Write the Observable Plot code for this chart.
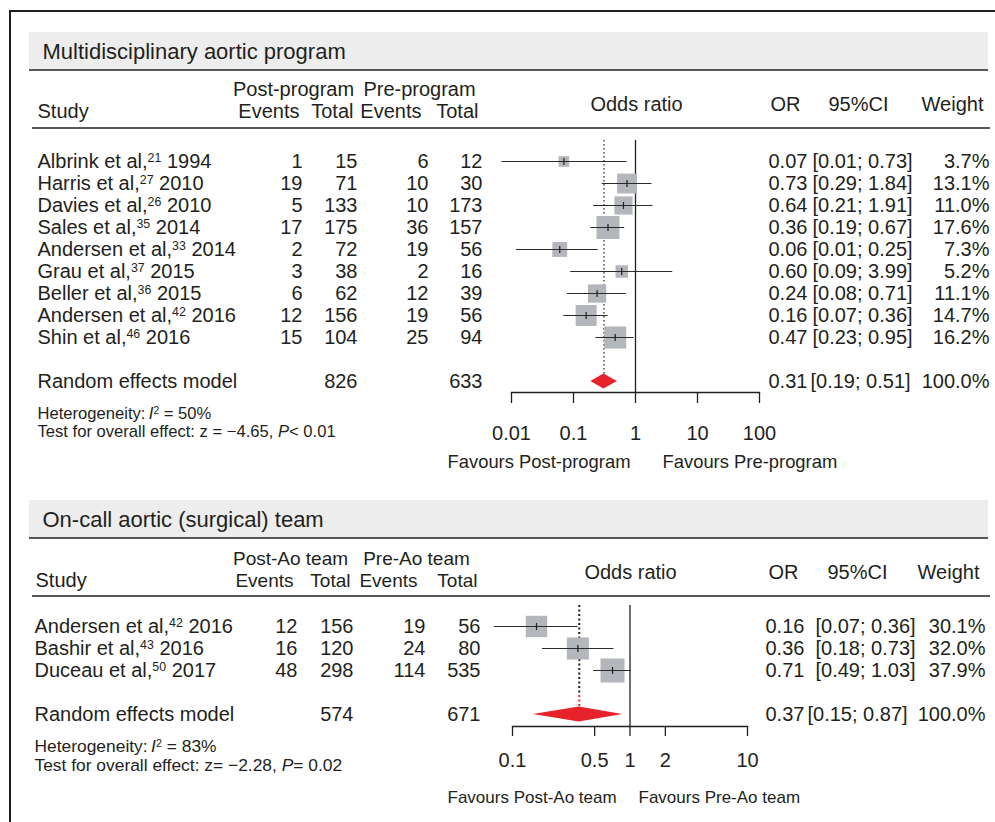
<!DOCTYPE html>
<html>
<head>
<meta charset="utf-8">
<script src="https://cdn.jsdelivr.net/npm/d3@7"></script>
<script src="https://cdn.jsdelivr.net/npm/@observablehq/plot@0.6"></script>
<style>
  body { margin: 0; background: #fff; }
  #page { position: relative; width: 995px; height: 822px; overflow: hidden; background: #fff;
          font-family: "Liberation Sans", Arial, Helvetica, sans-serif; }
  #p1, #p2 { position: absolute; left: 0; }
  #p1 { top: 0; }
  #p2 { top: 482px; }
  #border { position: absolute; left: 9px; top: 10px; width: 990px; height: 820px;
            border-left: 2px solid #231f20; border-top: 2px solid #231f20; pointer-events: none; }
</style>
</head>
<body>
<div id="page"><div id="p1"></div><div id="p2"></div><div id="border"></div></div>
<script>
// ---------------- data: panel 1 ----------------
const title1 = "Multidisciplinary aortic program";
const groups1 = ["Post-program", "Pre-program"];
const studies1 = ["Albrink et al,{21} 1994", "Harris et al,{27} 2010", "Davies et al,{26} 2010",
  "Sales et al,{35} 2014", "Andersen et al,{33} 2014", "Grau et al,{37} 2015",
  "Beller et al,{36} 2015", "Andersen et al,{42} 2016", "Shin et al,{46} 2016"];
const postEvents1 = [1, 19, 5, 17, 2, 3, 6, 12, 15];
const postTotal1 = [15, 71, 133, 175, 72, 38, 62, 156, 104];
const preEvents1 = [6, 10, 10, 36, 19, 2, 12, 19, 25];
const preTotal1 = [12, 30, 173, 157, 56, 16, 39, 56, 94];
const or1 = [0.07, 0.73, 0.64, 0.36, 0.06, 0.60, 0.24, 0.16, 0.47];
const lo1 = [0.007, 0.29, 0.21, 0.19, 0.012, 0.09, 0.08, 0.07, 0.23];
const hi1 = [0.73, 1.84, 1.91, 0.67, 0.25, 3.99, 0.71, 0.36, 0.95];
const weight1 = [3.7, 13.1, 11.0, 17.6, 7.3, 5.2, 11.1, 14.7, 16.2];
const summaryOR1 = [0.31, 0.19, 0.51];       // or, lower, upper
const summaryTotals1 = [826, 633];
const summaryWeight1 = 100.0;
const het1 = "Heterogeneity:\u2009<i>I</i>{2} = 50%";
const test1 = "Test for overall effect: z = \u22124.65, <i>P</i>< 0.01";
const ticks1 = [0.01, 0.1, 1, 10, 100];
const domain1 = [0.01, 100];
const favours1 = ["Favours Post-program", "Favours Pre-program"];

// ---------------- data: panel 2 ----------------
const title2 = "On-call aortic (surgical) team";
const groups2 = ["Post-Ao team", "Pre-Ao team"];
const studies2 = ["Andersen et al,{42} 2016", "Bashir et al,{43} 2016", "Duceau et al,{50} 2017"];
const postEvents2 = [12, 16, 48];
const postTotal2 = [156, 120, 298];
const preEvents2 = [19, 24, 114];
const preTotal2 = [56, 80, 535];
const or2 = [0.16, 0.36, 0.71];
const lo2 = [0.07, 0.18, 0.49];
const hi2 = [0.36, 0.73, 1.03];
const weight2 = [30.1, 32.0, 37.9];
const summaryOR2 = [0.37, 0.15, 0.87];
const summaryTotals2 = [574, 671];
const summaryWeight2 = 100.0;
const het2 = "Heterogeneity:\u2009<i>I</i>{2} = 83%";
const test2 = "Test for overall effect: z= \u22122.28, <i>P</i>= 0.02";
const ticks2 = [0.1, 0.5, 1, 2, 10];
const domain2 = [0.1, 10];
const favours2 = ["Favours Post-Ao team", "Favours Pre-Ao team"];

// ---------------- style ----------------
const W = 995;
const INK = "#231f20", SQ = "#b3b6ba", RED = "#e8222a", BAND = "#ededed";
const SUMMARY = "Random effects model";
const FONT = "'Liberation Sans', Arial, Helvetica, sans-serif";
const vbar = {draw(ctx, size) { const h = Math.sqrt(size / Math.PI); ctx.moveTo(0, -h); ctx.lineTo(0, h); }};

// convert {sup} and <i>..</i> markup into tspans
function rich(svg) {
  for (const t of svg.querySelectorAll("text")) {
    const s = t.textContent;
    if (!/\{|<i>/.test(s)) continue;
    t.textContent = "";
    const parts = s.split(/(\{[^}]*\}|<i>[^<]*<\/i>)/).filter(p => p !== "");
    let raised = false;
    for (const p of parts) {
      const ts = document.createElementNS("http://www.w3.org/2000/svg", "tspan");
      if (p.startsWith("{")) {
        ts.textContent = p.slice(1, -1);
        ts.setAttribute("font-size", "0.62em");
        ts.setAttribute("dy", "-0.5em");
        raised = true;
      } else {
        if (p.startsWith("<i>")) { ts.textContent = p.slice(3, -4); ts.setAttribute("font-style", "italic"); }
        else ts.textContent = p;
        if (raised) { ts.setAttribute("dy", "0.31em"); raised = false; }
      }
      t.appendChild(ts);
    }
  }
}

function build(d, L) {
  const rows = d.studies.map((s, i) => ({study: s, pe: d.postEvents[i], pt: d.postTotal[i],
    re: d.preEvents[i], rt: d.preTotal[i], or: d.or[i], lo: d.lo[i], hi: d.hi[i], w: d.weight[i]}));
  const summ = {study: SUMMARY, pt: d.summaryTotals[0], rt: d.summaryTotals[1],
    or: d.summaryOR[0], lo: d.summaryOR[1], hi: d.summaryOR[2], w: d.summaryWeight};
  const all = [...rows, summ];
  const ml = L.xRange[0], mr = W - L.xRange[1], mt = L.frameTop, mb = L.height - L.axisY;
  const DX = px => px - ml, DY = py => py - mt;
  const label = (str, px, py, anchor, size = 20) => Plot.text([str], {text: s => s,
    frameAnchor: "top-left", dx: DX(px), dy: DY(py), textAnchor: anchor, lineAnchor: "middle",
    fontSize: size, fill: INK});
  const col = (data, text, px, anchor) => Plot.text(data, {y: "study", text, frameAnchor: "left",
    dx: DX(px), textAnchor: anchor, lineAnchor: "middle", fontSize: 20, fill: INK});
  const sy = L.yRange[1], half = L.diamondHalf;
  const deco = () => {
    const g = d3.create("svg:g");
    g.append("rect").attr("x", L.band[0]).attr("y", L.band[1])
      .attr("width", L.band[2] - L.band[0]).attr("height", L.band[3] - L.band[1]).attr("fill", BAND);
    for (const [x1, x2, y] of L.hlines)
      g.append("line").attr("x1", x1).attr("x2", x2).attr("y1", y).attr("y2", y)
        .attr("stroke", INK).attr("stroke-width", 1.5);
    return g.node();
  };
  const diamond = (index, {x, y}) => {
    const cy = y(SUMMARY);
    return d3.create("svg:path")
      .attr("d", `M${x(summ.lo)},${cy}L${x(summ.or)},${cy - half}L${x(summ.hi)},${cy}L${x(summ.or)},${cy + half}Z`)
      .attr("fill", RED).node();
  };
  const dotted = L.dotted.map(s => Plot.ruleX([summ.or], {x: v => v, stroke: s.stroke,
    strokeWidth: s.width, strokeDasharray: s.dash,
    insetTop: s.top - mt, insetBottom: L.axisY - (s.bottom ?? (sy - half))}));

  const svg = Plot.plot({
    width: W, height: L.height,
    marginLeft: ml, marginRight: mr, marginTop: mt, marginBottom: mb,
    style: {fontFamily: FONT, color: INK, background: "none", overflow: "visible"},
    x: {type: "log", domain: d.domain},
    y: {type: "point", domain: [...d.studies, " ", SUMMARY], range: L.yRange, padding: 0, axis: null},
    r: {type: "sqrt", domain: [0, d3.max(d.weight)], range: [0, L.maxSide / Math.sqrt(Math.PI)]},
    marks: [
      deco,
      label(d.title, L.titleX, L.titleY, "start", 22),
      label("Study", L.studyX, L.hdr2Y, "start"),
      label(d.groups[0], L.grpX[0], L.hdr1Y, "middle", L.hdrSize),
      label(d.groups[1], L.grpX[1], L.hdr1Y, "middle", L.hdrSize),
      label("Events", L.hdrCols[0], L.hdr2Y, "end", L.hdrSize),
      label("Total", L.hdrCols[1], L.hdr2Y, "end", L.hdrSize),
      label("Events", L.hdrCols[2], L.hdr2Y, "end", L.hdrSize),
      label("Total", L.hdrCols[3], L.hdr2Y, "end", L.hdrSize),
      label("Odds ratio", L.rightHdr[0], L.hdrMidY, "middle"),
      label("OR", L.rightHdr[1], L.hdrMidY, "middle"),
      label("95%CI", L.rightHdr[2], L.hdrMidY, "middle"),
      label("Weight", L.rightHdr[3], L.hdrMidY, "middle"),
      // table
      col(all, "study", L.nameX, "start"),
      col(rows, d => String(d.pe), L.numCols[0], "end"),
      col(all, d => String(d.pt), L.numCols[1], "end"),
      col(rows, d => String(d.re), L.numCols[2], "end"),
      col(all, d => String(d.rt), L.numCols[3], "end"),
      col(all, d => d.or.toFixed(2), L.orX, "start"),
      col(rows, d => `[${d.lo.toFixed(2)}; ${d.hi.toFixed(2)}]`, L.ciX, "start"),
      col([summ], d => `[${d.lo.toFixed(2)}; ${d.hi.toFixed(2)}]`, L.ciSumX, "start"),
      col(all, d => d.w.toFixed(1) + "%", L.wX, "end"),
      label(d.het, L.nameX, L.hetY, "start", L.hetSize),
      label(d.test, L.nameX, L.testY, "start", L.hetSize),
      // forest
      Plot.ruleX([1], {x: v => v, stroke: INK, strokeWidth: 1.3}),
      ...dotted,
      Plot.dot(rows, {x: "or", y: "study", r: "w", symbol: "square", fill: SQ, stroke: "none"}),
      Plot.ruleY(rows, {y: "study", x1: "lo", x2: "hi", stroke: "#2b2b2b", strokeWidth: 1.2}),
      Plot.dot(rows, {x: "or", y: "study", r: 3.5, symbol: vbar, fill: "none", stroke: INK, strokeWidth: 1.2}),
      diamond,
      Plot.frame({anchor: "bottom", stroke: INK, strokeWidth: 1.3}),
      Plot.axisX(d.ticks, {anchor: "bottom", tickSize: L.tickSize, tickFormat: () => "",
        label: null, stroke: INK, strokeWidth: 1.3}),
      Plot.text(d.ticks, {x: v => v, text: v => String(v), frameAnchor: "bottom",
        dy: L.tickSize + L.tickPadding, lineAnchor: "top", textAnchor: "middle", fontSize: 20, fill: INK}),
      label(d.favours[0], L.favX[0], L.favY, "start", L.favSize),
      label(d.favours[1], L.favX[1], L.favY, "start", L.favSize)
    ]
  });
  rich(svg);
  return svg;
}

const data1 = {title: title1, groups: groups1, studies: studies1, postEvents: postEvents1, postTotal: postTotal1,
  preEvents: preEvents1, preTotal: preTotal1, or: or1, lo: lo1, hi: hi1, weight: weight1,
  summaryOR: summaryOR1, summaryTotals: summaryTotals1, summaryWeight: summaryWeight1,
  het: het1, test: test1, ticks: ticks1, domain: domain1, favours: favours1};
const data2 = {title: title2, groups: groups2, studies: studies2, postEvents: postEvents2, postTotal: postTotal2,
  preEvents: preEvents2, preTotal: preTotal2, or: or2, lo: lo2, hi: hi2, weight: weight2,
  summaryOR: summaryOR2, summaryTotals: summaryTotals2, summaryWeight: summaryWeight2,
  het: het2, test: test2, ticks: ticks2, domain: domain2, favours: favours2};

const layout1 = {
  height: 482, xRange: [511, 759], frameTop: 140, axisY: 392, yRange: [159, 383],
  band: [29, 32, 988, 70], hlines: [[29, 988, 70], [32, 990, 128]],
  titleX: 42, titleY: 51, studyX: 37, hdr1Y: 89, hdr2Y: 111, hdrMidY: 104, hdrSize: 20,
  grpX: [293, 419], hdrCols: [299, 353, 421, 478], rightHdr: [636, 785, 858, 952],
  nameX: 37, numCols: [302, 357, 428, 482], orX: 768, ciX: 812, ciSumX: 810, wX: 989,
  hetY: 413, testY: 431.5, hetSize: 16.6, maxSide: 23, diamondHalf: 7.5,
  dotted: [{top: 140, stroke: INK, width: 1.2, dash: "1.5,2.5"}],
  tickSize: 11, tickPadding: 22, favY: 462, favX: [447, 662], favSize: 18.4
};
const layout2 = {
  height: 340, xRange: [512, 747], frameTop: 123, axisY: 244, yRange: [144, 232],
  band: [29, 18, 988, 56], hlines: [[29, 988, 56], [32, 990, 114]],
  titleX: 42, titleY: 37, studyX: 35, hdr1Y: 76, hdr2Y: 98, hdrMidY: 90, hdrSize: 19,
  grpX: [290, 416], hdrCols: [293, 350, 417, 477], rightHdr: [630, 783, 857, 948],
  nameX: 34, numCols: [297, 353, 425, 480], orX: 765, ciX: 815, ciSumX: 807, wX: 985,
  hetY: 264, testY: 283, hetSize: 17.4, maxSide: 24, diamondHalf: 7.5,
  dotted: [{top: 123, bottom: 213, stroke: INK, width: 2, dash: "2,2.5"},
           {top: 213, stroke: RED, width: 2, dash: "2,2.5"}],
  tickSize: 10, tickPadding: 16, favY: 315, favX: [447, 638], favSize: 17
};

document.getElementById("p1").appendChild(build(data1, layout1));
document.getElementById("p2").appendChild(build(data2, layout2));
</script>
</body>
</html>
